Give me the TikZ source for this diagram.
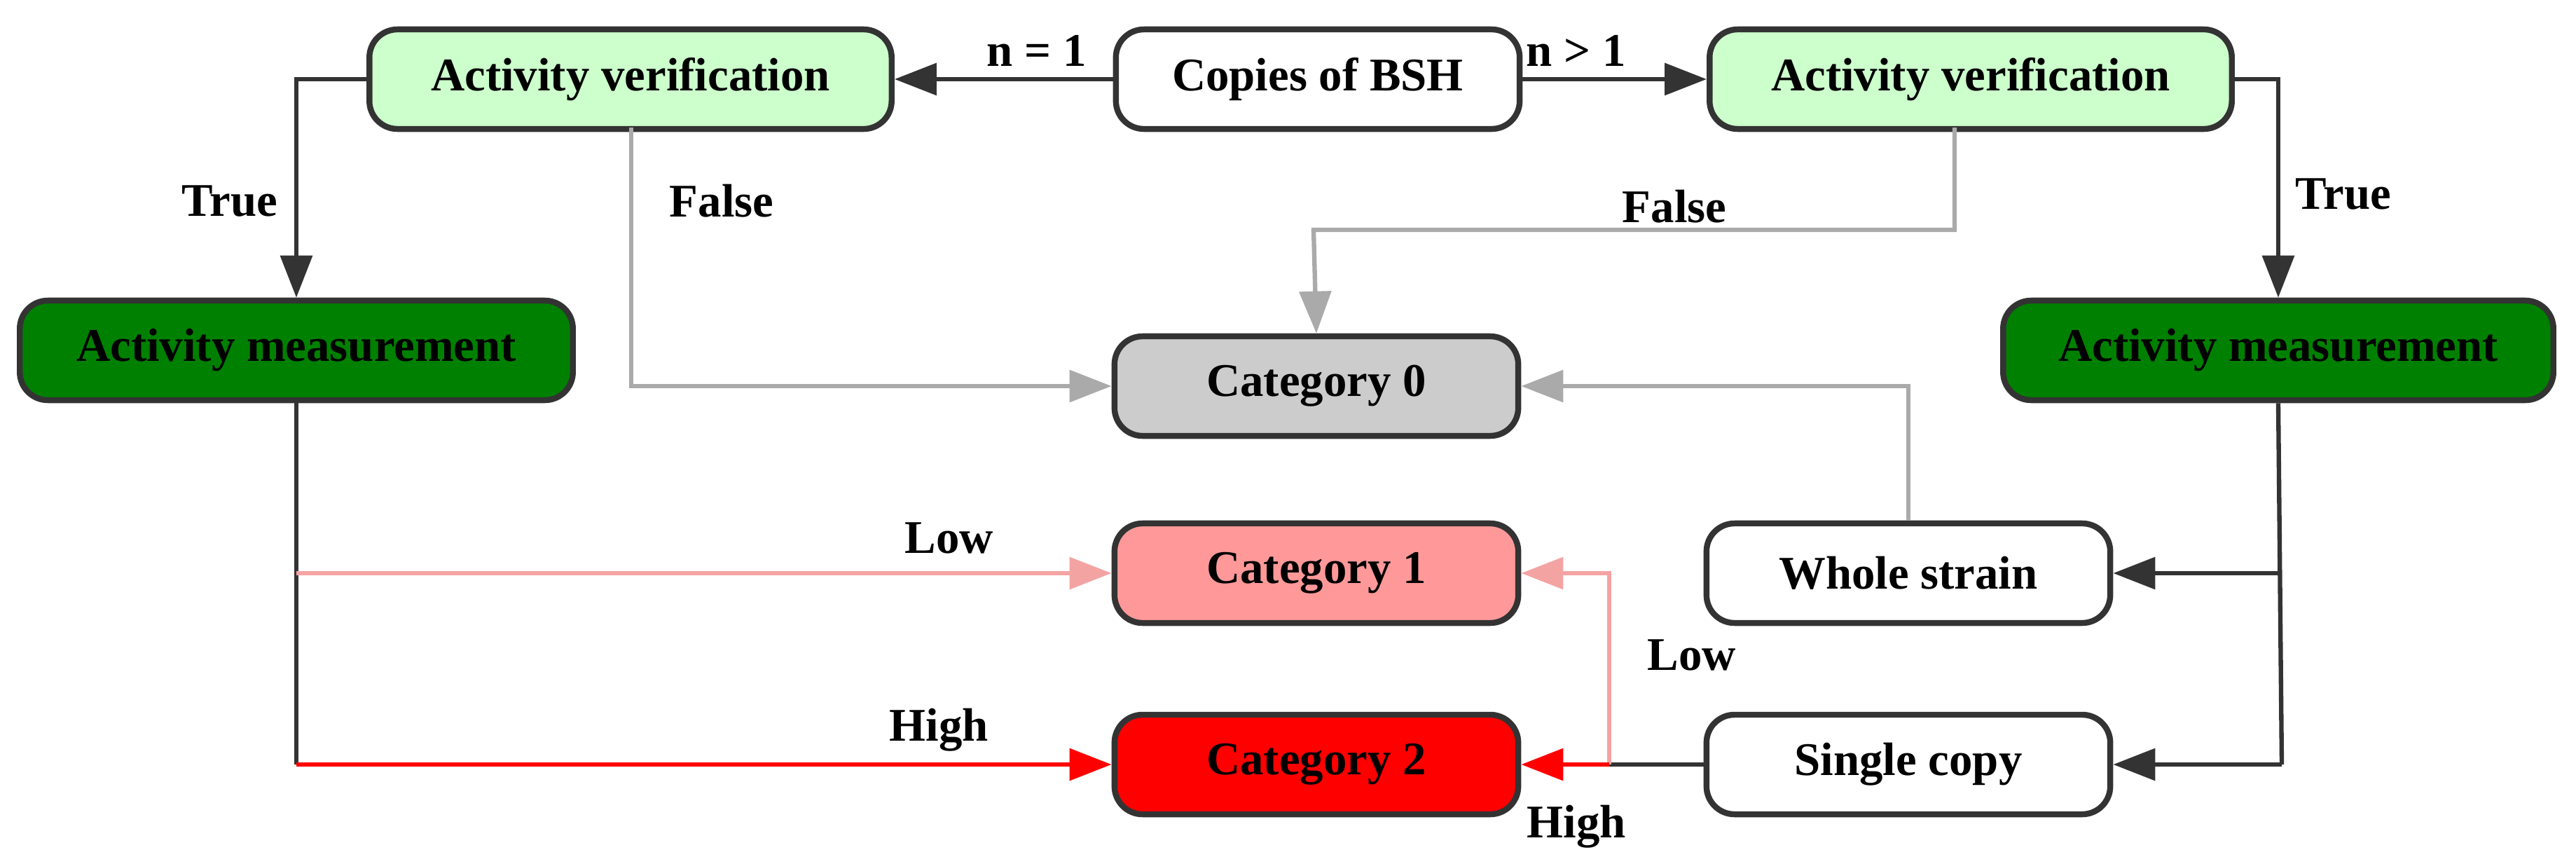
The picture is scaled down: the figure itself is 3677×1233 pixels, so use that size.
\documentclass[tikz,border=0pt]{standalone}
\usepackage{fontspec}
\setmainfont{Liberation Serif}
\usetikzlibrary{arrows.meta}
\definecolor{lgreen}{HTML}{CCFFCC}
\definecolor{dgreen}{HTML}{008000}
\definecolor{lgray}{HTML}{CCCCCC}
\definecolor{pink}{HTML}{FF9999}
\definecolor{dline}{HTML}{333333}
\definecolor{gline}{HTML}{AAAAAA}
\definecolor{pline}{HTML}{F4A3A3}
\begin{document}
\begin{tikzpicture}[x=0.01cm,y=-0.01cm,
  box/.style={draw=dline,line width=2.4pt,rounded corners=0.4cm,minimum height=1.42cm,font=\fontsize{19}{22}\selectfont\bfseries,inner sep=0pt},
  wide/.style={box,minimum width=7.45cm},
  cat/.style={box,minimum width=5.76cm},
  lab/.style={font=\fontsize{19}{22}\selectfont\bfseries},
  con/.style={line width=1.8pt,draw=dline,-{Triangle[length=0.6cm,width=0.45cm]}},
  gcon/.style={con,draw=gline},
  pcon/.style={con,draw=pline},
  rcon/.style={con,draw=red},
  ln/.style={line width=1.8pt,draw=dline}]
\useasboundingbox (0,0) rectangle (3677,1233);
\node[cat,fill=white] (cp) at (1881,113) {Copies of BSH};
\node[wide,fill=lgreen] (avl) at (900,113) {Activity verification};
\node[wide,fill=lgreen] (avr) at (2813,113) {Activity verification};
\node[box,minimum width=7.89cm,fill=dgreen] (aml) at (423,500) {Activity measurement};
\node[box,minimum width=7.85cm,fill=dgreen] (amr) at (3252,500) {Activity measurement};
\node[cat,fill=lgray] (c0) at (1879,551) {Category 0};
\node[cat,fill=pink] (c1) at (1879,818) {Category 1};
\node[cat,fill=red] (c2) at (1879,1091) {Category 2};
\node[cat,fill=white] (ws) at (2724,818) {Whole strain};
\node[cat,fill=white] (sc) at (2724,1091) {Single copy};
\coordinate (jl) at (423,818);
\coordinate (jr) at (3257,818);
\coordinate (jh) at (2297,1091);
% top
\draw[con] (cp) -- (avl);
\draw[con] (cp) -- (avr);
\node[lab] at (1480,72) {n = 1};
\node[lab] at (2250,72) {n > 1};
\draw[con] (avl.west) -| (aml.north);
\node[lab] at (328,287) {True};
\draw[con] (avr.east) -| (amr.north);
\node[lab] at (3345,277) {True};
\draw[gcon] (901,182) |- (c0.west);
\node[lab] at (1030,287) {False};
\draw[gcon] (2790,182) |- (1875,328) -- (c0.north);
\node[lab] at (2390,295) {False};
\draw[gcon] (ws.north) |- (c0.east);
% left branch
\draw[ln] (aml.south) -- (423,1091);
\draw[pcon] (jl) -- (c1.west);
\draw[rcon] (423,1091) -- (c2.west);
\node[lab] at (1355,768) {Low};
\draw[lab] node at (1340,1042) {High};
% right branch
\draw[ln] (amr.south) -- (3257,1091);
\draw[con] (jr) -- (ws.east);
\draw[con] (3257,1091) -- (sc.east);
\draw[ln] (sc.west) -- (jh);
\draw[pcon] (jh) |- (c1.east);
\draw[rcon] (jh) -- (c2.east);
\node[lab] at (2415,935) {Low};
\node[lab] at (2250,1180) {High};
\end{tikzpicture}
\end{document}
